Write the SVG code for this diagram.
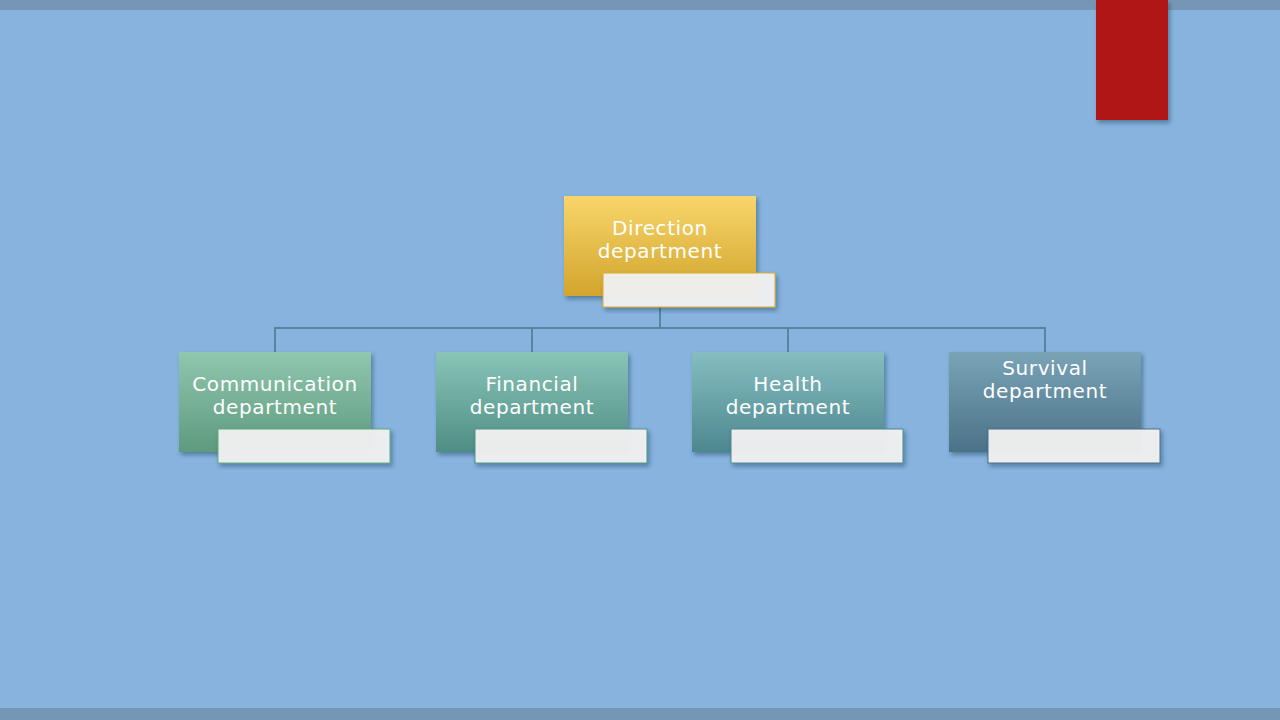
<svg xmlns="http://www.w3.org/2000/svg" width="1280" height="720" viewBox="0 0 1280 720">
<defs>
<linearGradient id="gDir" x1="0" y1="0" x2="0" y2="1"><stop offset="0" stop-color="#f8d56c"/><stop offset="1" stop-color="#d2a52c"/></linearGradient>
<linearGradient id="gCom" x1="0" y1="0" x2="0" y2="1"><stop offset="0" stop-color="#90c7ae"/><stop offset="1" stop-color="#5e9a7e"/></linearGradient>
<linearGradient id="gFin" x1="0" y1="0" x2="0" y2="1"><stop offset="0" stop-color="#89c4b7"/><stop offset="1" stop-color="#4f8e84"/></linearGradient>
<linearGradient id="gHea" x1="0" y1="0" x2="0" y2="1"><stop offset="0" stop-color="#85bdc1"/><stop offset="1" stop-color="#4d888f"/></linearGradient>
<linearGradient id="gSur" x1="0" y1="0" x2="0" y2="1"><stop offset="0" stop-color="#79a4b6"/><stop offset="1" stop-color="#4c7288"/></linearGradient>
<filter id="sh" x="-10%" y="-10%" width="130%" height="130%"><feDropShadow dx="2" dy="3" stdDeviation="2" flood-color="#1e3a55" flood-opacity="0.45"/></filter>
</defs>
<style>
.t{font-family:"DejaVu Sans","Liberation Sans",sans-serif;font-size:20px;letter-spacing:0.6px;fill:#ffffff;text-anchor:middle}
.lbl{fill:#f1f1f1;fill-opacity:0.95}
.conn{fill:none;stroke:#5486a0;stroke-width:2}
</style>
<rect x="0" y="0" width="1280" height="720" fill="#87b3de"/>
<rect x="0" y="0" width="1280" height="10" fill="#7597b5"/>
<rect x="0" y="708" width="1280" height="12" fill="#7597b5"/>
<rect x="1096" y="0" width="72" height="120" fill="#b01815" filter="url(#sh)"/>
<g id="connectors">
<path class="conn" d="M660 307V328M275 352V328H1045V352M532 328V352M788 328V352"/>
</g>
<g id="direction">
<rect x="564" y="196" width="192" height="100" fill="url(#gDir)" filter="url(#sh)"/>
<text class="t" x="660" y="235">Direction</text>
<text class="t" x="660" y="258">department</text>
<rect x="603" y="273" width="172" height="34" class="lbl" stroke="#d9ad30" stroke-width="1" filter="url(#sh)"/>
</g>
<g id="communication">
<rect x="179" y="352" width="192" height="100" fill="url(#gCom)" filter="url(#sh)"/>
<text class="t" x="275" y="391">Communication</text>
<text class="t" x="275" y="414">department</text>
<rect x="218" y="429" width="172" height="34" class="lbl" stroke="#5faa80" stroke-width="1" filter="url(#sh)"/>
</g>
<g id="financial">
<rect x="436" y="352" width="192" height="100" fill="url(#gFin)" filter="url(#sh)"/>
<text class="t" x="532" y="391">Financial</text>
<text class="t" x="532" y="414">department</text>
<rect x="475" y="429" width="172" height="34" class="lbl" stroke="#4f9488" stroke-width="1" filter="url(#sh)"/>
</g>
<g id="health">
<rect x="692" y="352" width="192" height="100" fill="url(#gHea)" filter="url(#sh)"/>
<text class="t" x="788" y="391">Health</text>
<text class="t" x="788" y="414">department</text>
<rect x="731" y="429" width="172" height="34" class="lbl" stroke="#4d8a92" stroke-width="1" filter="url(#sh)"/>
</g>
<g id="survival">
<rect x="949" y="352" width="192" height="100" fill="url(#gSur)" filter="url(#sh)"/>
<text class="t" x="1045" y="375">Survival</text>
<text class="t" x="1045" y="398">department</text>
<rect x="988" y="429" width="172" height="34" class="lbl" stroke="#4c7288" stroke-width="1" filter="url(#sh)"/>
</g>
</svg>
